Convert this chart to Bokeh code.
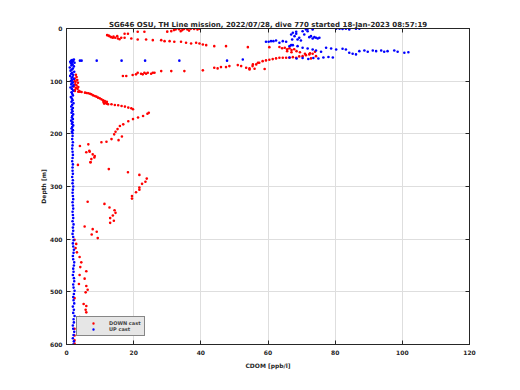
from bokeh.plotting import figure
from bokeh.models import Range1d, FixedTicker, LinearAxis, Legend, LegendItem, Title
from bokeh.embed import file_html
from bokeh.resources import INLINE

TITLE = "SG646 OSU, TH Line mission, 2022/07/28, dive 770 started 18-Jan-2023 08:57:19"
X_LABEL = "CDOM [ppb/l]"
Y_LABEL = "Depth [m]"
X_TICKS = [0, 20, 40, 60, 80, 100, 120]
Y_TICKS = [0, 100, 200, 300, 400, 500, 600]

# DOWN cast (red)
down_cdom = [
    30.0, 31.2, 32.0, 32.5, 33.5, 34.5, 35.0, 36.0, 37.0, 38.0, 39.0, 39.6, 34.0, 36.5,
    21.2, 23.2, 17.3, 18.3,
    12.1, 12.8, 13.3, 13.8, 14.5, 15.3, 15.8, 16.3, 15.1, 17.3, 14.0, 12.5,
    19.3, 21.2, 23.7, 25.7, 28.2, 29.2, 30.7, 32.1, 34.1, 35.6, 37.1, 38.6, 39.6, 40.6, 41.6, 44.0, 47.5, 54.0,
    16.8, 17.8, 19.7, 20.7, 21.2, 22.2, 22.7, 23.2, 23.7, 24.2, 25.2, 25.7, 26.2, 28.2, 31.2, 35.1, 40.6,
    44.0, 45.0, 46.0, 47.5, 48.5, 51.0, 52.0, 53.5, 54.5, 55.5, 57.0,
    54.5, 55.4, 56.5, 57.4, 58.4, 59.4, 60.4, 61.4, 62.4, 63.4, 64.4, 65.4, 66.4, 67.4, 68.4, 69.3,
    70.3, 71.3, 72.3, 73.3, 74.3, 72.8, 56.0, 59.0,
    63.4, 64.2, 65.0, 65.7, 66.4, 67.0, 67.8, 68.5, 65.7, 67.0, 69.5, 71.0, 72.5, 74.0, 60.4,
    2.8, 3.0, 2.5, 3.2, 2.7, 3.4, 2.6, 3.0, 3.5, 2.8, 3.3, 2.5, 3.8, 2.2, 2.4,
    2.5, 3.5, 4.5, 5.5, 6.5, 7.4, 7.9, 8.4, 8.9, 9.4, 9.9, 10.4, 10.9, 11.4, 11.9, 11.2,
    12.4, 13.4, 14.4, 15.4, 16.4, 17.4, 18.4, 19.3, 19.8, 4.0, 6.0, 7.0, 12.0, 11.6, 12.0, 11.0,
    24.5, 24.1, 22.8, 21.3, 19.8, 18.4, 16.9, 15.9, 15.2, 14.6, 14.2, 16.5, 15.5,
    13.4, 11.9, 10.4, 6.5, 4.0,
    6.9, 6.8, 5.9, 7.8, 8.3, 7.4, 7.1, 3.4, 8.4, 7.2,
    12.6, 18.3, 21.7, 23.9, 23.5, 22.5, 21.7, 21.7, 20.7, 19.5, 19.5,
    6.3, 11.3, 12.8, 14.3, 14.6, 13.8, 13.0, 14.1, 13.0,
    5.4, 7.8, 9.0, 7.5, 9.3,
    2.4, 2.9, 2.7, 3.1, 3.9, 4.4, 4.1, 5.9, 3.9, 5.4, 3.7, 5.9, 6.3, 5.7, 2.4, 5.1, 5.9, 5.7, 5.9,
    3.9, 6.3, 3.4, 3.7, 2.4, 4.4, 2.4, 2.4, 2.4,
]
down_depth = [
    6, 5, 3, 2, 1.5, 3, 1, 2, 0.5, 1, 2, 0.5, 5, 4,
    6.3, 6.3, 10, 10,
    12.6, 14.5, 16.4, 17.7, 17.7, 19, 20.3, 17.7, 14.5, 17.7, 15.5, 13.5,
    19, 20.8, 20.8, 22.1, 22.1, 24, 24, 25.3, 25.3, 27.1, 28.4, 27.1, 28.4, 30.3, 31.6, 33.5, 33.5, 35.4,
    90.3, 90.3, 88.4, 87.1, 83.9, 85.8, 87.1, 83.9, 85.8, 83.9, 85.8, 83.9, 83.9, 80.9, 80.9, 80.9, 79.5,
    74.4, 75.8, 73.3, 73.3, 71.4, 69.5, 71.4, 74.4, 77.7, 68.2, 65.0,
    75.8, 71.4, 68.2, 65.0, 62.0, 60.6, 59.3, 58.1, 56.8, 55.5, 55.5, 55.5, 55.5, 54.4, 55.5, 53.0,
    52.5, 50.6, 49.2, 47.9, 52.5, 56.8, 76.5, 77.0,
    35.0, 37.5, 36.5, 39.5, 37.5, 41.0, 39.5, 43.0, 43.0, 45.0, 45.0, 48.0, 47.0, 44.0, 35.4,
    88, 92, 95, 98, 101, 103, 106, 108, 111, 113, 115, 117, 119, 110, 100,
    118.7, 120, 120.6, 121.8, 123, 125, 126.9, 128.2, 129.4, 131.3, 132.6, 134.5, 136.4, 137.7, 140.7, 142.6,
    143.9, 143.9, 145.3, 145.8, 147.1, 148.3, 150.2, 151.5, 153.4, 120.2, 122.4, 124, 139, 141.5, 143, 139.5,
    160, 162, 166, 169, 172, 176, 182, 185, 191, 196, 201, 205, 212,
    210, 215, 216, 220, 223,
    234, 232, 235, 239, 245, 248, 254, 259, 242, 254,
    267, 273, 278, 285, 291, 295, 302, 306, 311, 318, 323,
    329, 333, 340, 345, 350, 355, 360, 365, 369,
    376, 381, 386, 391, 398,
    401, 409, 417, 425, 434, 444, 453, 461, 468, 475, 485, 489, 496, 501, 512, 523, 527, 534, 539,
    548, 554, 561, 567, 570, 576, 583, 592, 598,
]

# UP cast (blue)
up_cdom = [
    2.0, 2.2, 1.9, 2.1, 2.3, 2.0, 1.9, 2.2, 2.1, 2.4, 2.0, 2.2, 1.9, 2.3, 2.1, 2.0, 2.2, 2.4, 2.1, 2.0,
    2.3, 2.2, 1.9, 2.1, 2.0, 2.2, 2.3, 2.0, 1.9, 2.1, 2.2, 2.0, 1.9, 2.1, 2.0, 1.8, 2.0, 1.9, 2.1, 1.8,
    2.0, 1.9, 1.8, 2.0, 1.9, 1.8, 2.0, 1.9, 1.8, 1.9, 2.0, 1.8, 1.9, 1.7, 1.9, 1.8, 1.8, 1.9, 1.7, 1.8,
    1.9, 1.8, 1.7, 1.8, 1.9, 1.7, 1.8,
    1.8, 1.6, 1.9, 1.5, 1.7, 2.0, 1.6, 1.8, 1.4, 1.9, 1.6, 1.7, 2.0, 1.5, 1.8, 1.6, 1.9, 1.4, 1.7, 2.1,
    1.5, 1.8, 1.6, 1.3, 1.9, 1.7, 1.5, 2.0, 1.6, 1.2, 1.8, 2.1, 1.4, 1.7, 1.9, 1.3, 1.6, 2.2, 1.5, 1.8,
    1.1, 2.0, 1.4, 1.7, 2.3, 1.2, 1.6, 1.9, 1.0, 2.2, 1.5, 1.8, 1.3, 2.4, 1.6, 1.1, 2.0, 1.4, 1.7, 2.2,
    4.0, 4.5, 9.0, 16.4, 23.4, 33.6, 47.8, 52.5,
    66.9, 67.4, 67.9, 68.4, 68.8, 69.3, 69.8, 70.3, 70.8, 71.3, 71.8, 72.3, 72.8, 73.3, 73.8, 74.3, 74.8, 75.3,
    68.4, 67.2, 71.8, 73.3,
    80.3, 81.3, 82.2, 83.2, 84.2, 86.2, 87.2,
    59.4, 60.2, 60.9, 61.6, 62.4, 63.4, 64.4, 65.4, 66.4, 66.9,
    67.4, 68.8, 70.3, 71.8, 73.3, 74.3, 75.8, 77.3, 78.8, 80.3, 82.2, 83.2, 84.2, 85.2, 86.2, 87.2, 88.7,
    89.7, 91.2, 92.2, 93.7, 94.6, 95.6, 97.6, 98.6, 100.6, 101.8,
    66.4, 68.5, 70.3, 72.0, 73.5, 75.0, 76.5, 78.0, 79.3,
]
up_depth = [
    600, 594, 588, 582, 576, 570, 564, 558, 552, 546, 540, 534, 528, 522, 516, 510, 504, 498, 492, 486,
    480, 474, 468, 462, 456, 450, 444, 438, 432, 426, 420, 414, 408, 402, 396, 390, 384, 378, 372, 366,
    360, 354, 348, 342, 336, 330, 324, 318, 312, 306, 300, 294, 288, 282, 276, 270, 264, 258, 252, 246,
    240, 234, 228, 222, 216, 210, 204,
    199, 196, 193, 190, 187, 184, 181, 178, 175, 172, 169, 166, 163, 160, 157, 154, 151, 148, 145, 142,
    139, 136, 133, 130, 127, 124, 121, 118, 115, 112, 110, 108, 106, 104, 102, 100, 98, 96, 94, 92,
    90, 88, 86, 84, 82, 80, 78, 76, 74, 72, 70, 68, 66, 65, 64, 63, 62, 61, 60, 59,
    61, 61, 61, 61, 61, 61, 61, 59,
    11.4, 8.2, 14.5, 10.1, 20.8, 17.7, 22.7, 5.1, 11.4, 1.9, 5.1, 16.4, 14.5, 18.9, 16.4, 17.7, 18.9, 17.7,
    6.3, 20.8, 0.5, 1.9,
    0.5, 0.5, 1.0, 0.5, 2.0, 0.5, 0.3,
    25.3, 25.3, 24.0, 24.0, 22.7, 27.1, 24.0, 25.3, 33.5, 31.6,
    31.6, 33.5, 36.6, 37.9, 39.8, 41.7, 44.2, 36.6, 37.9, 39.8, 38.5, 39.8, 46.0, 48.0, 49.2, 43.0, 41.7,
    44.2, 41.7, 43.0, 41.7, 44.2, 43.0, 41.7, 44.2, 46.0, 45.0,
    55.0, 57.0, 56.0, 58.0, 56.0, 57.0, 55.0, 54.0, 55.0,
]

p = figure(width=511, height=381, output_backend="svg", toolbar_location=None,
           x_range=Range1d(0, 120), y_range=Range1d(600, 0),
           min_border_left=66, min_border_right=42, min_border_top=28, min_border_bottom=37,
           background_fill_color="white", border_fill_color="white")

p.outline_line_color = "#262626"
p.outline_line_width = 1

r_down = p.scatter(down_cdom, down_depth, size=2.6, color="#ff0000", line_color=None)
r_up = p.scatter(up_cdom, up_depth, size=2.6, color="#0000ff", line_color=None)

font = "DejaVu Sans"
for ax in (p.xaxis[0], p.yaxis[0]):
    ax.major_tick_in = 4
    ax.major_tick_out = 0
    ax.minor_tick_line_color = None
    ax.axis_line_color = "#262626"
    ax.major_tick_line_color = "#262626"
    ax.major_label_text_font = font
    ax.major_label_text_font_size = "6px"
    ax.major_label_text_font_style = "bold"
    ax.major_label_text_color = "#262626"
    ax.axis_label_text_font = font
    ax.axis_label_text_font_size = "6px"
    ax.axis_label_text_font_style = "bold"
    ax.axis_label_text_color = "#262626"
p.xaxis[0].ticker = FixedTicker(ticks=X_TICKS)
p.yaxis[0].ticker = FixedTicker(ticks=Y_TICKS)
p.xaxis[0].axis_label = X_LABEL
p.yaxis[0].axis_label = Y_LABEL
p.xaxis[0].major_label_standoff = 5
p.xaxis[0].axis_label_standoff = 4
p.yaxis[0].major_label_standoff = 4
p.yaxis[0].axis_label_standoff = 0

for loc, ticks in (("right", Y_TICKS), ("above", X_TICKS)):
    ax = LinearAxis(ticker=FixedTicker(ticks=ticks))
    ax.major_tick_in = 4
    ax.major_tick_out = 0
    ax.minor_tick_line_color = None
    ax.axis_line_color = "#262626"
    ax.major_tick_line_color = "#262626"
    ax.major_label_text_font_size = "1px"
    ax.major_label_text_color = None
    ax.major_label_standoff = 0
    p.add_layout(ax, loc)

p.xgrid.ticker = FixedTicker(ticks=X_TICKS)
p.ygrid.ticker = FixedTicker(ticks=Y_TICKS)
p.grid.grid_line_color = "#dedede"

p.title = Title(text=TITLE, align="center", text_font=font, text_font_size="7px",
                text_font_style="bold", text_color="#262626", standoff=0)

legend = Legend(items=[LegendItem(label="DOWN cast", renderers=[r_down]),
                       LegendItem(label="UP cast", renderers=[r_up])],
                location=(10, 8), label_text_font=font, label_text_font_size="5px",
                label_text_font_style="bold", label_height=6, glyph_height=6, glyph_width=26,
                label_standoff=3, padding=3, spacing=0, margin=0,
                background_fill_color="#e6e6e6", background_fill_alpha=1.0,
                border_line_color="#262626", border_line_width=1)
p.add_layout(legend, "center")

open("out.html", "w").write(file_html(p, INLINE))
